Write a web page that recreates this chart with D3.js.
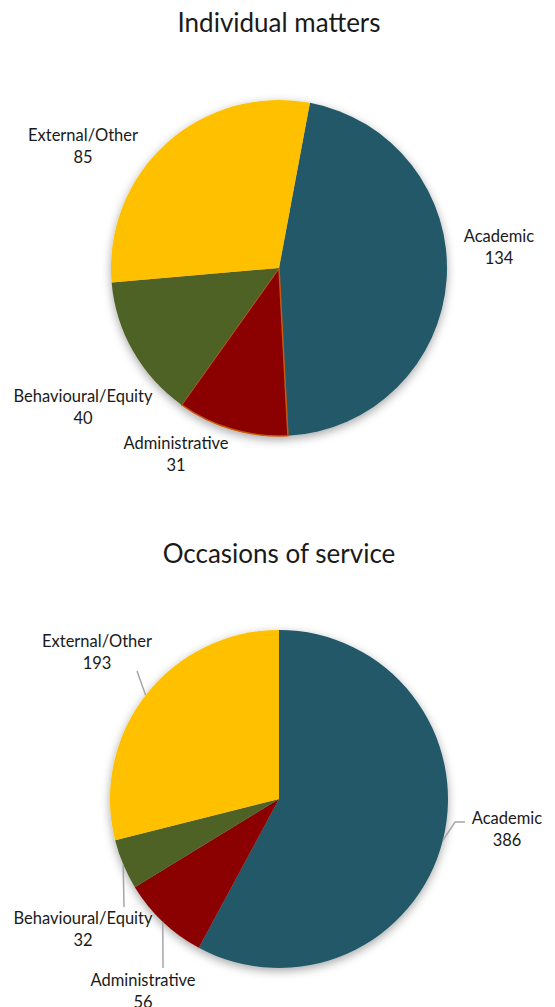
<!DOCTYPE html>
<html><head><meta charset="utf-8">
<script src="https://cdn.jsdelivr.net/npm/d3@7"></script>
<style>
body{margin:0;background:#fff;}
text{font-family:Lato,"Open Sans",sans-serif;fill:#1a1a1a;}
</style></head>
<body><svg id="c" width="555" height="1007"></svg>
<script>
const categories = ["Academic","Administrative","Behavioural/Equity","External/Other"];
const individualMatters = [134, 31, 40, 85];
const occasionsOfService = [386, 56, 32, 193];
const titles = ["Individual matters","Occasions of service"];
const colors = ["#215968","#8B0000","#4F6228","#FFC000"];

const svg = d3.select("#c");
const defs = svg.append("defs");
const f = defs.append("filter").attr("id","sh").attr("x","-20%").attr("y","-20%").attr("width","140%").attr("height","140%");
f.append("feDropShadow").attr("dx",0).attr("dy",3).attr("stdDeviation",5).attr("flood-color","#000").attr("flood-opacity",0.35);

const deg = Math.PI/180;
const charts = [
  {title:titles[0], values:individualMatters, cx:279, cy:268, r:168, start:10.6*deg, titleY:32,
   labels:[{x:499,y:236},{x:176,y:443},{x:83,y:396},{x:83,y:135}], leaders:[null,null,null,null],
   stroke:[null,"#C55A11",null,null]},
  {title:titles[1], values:occasionsOfService, cx:279, cy:799, r:169, start:0, titleY:563,
   labels:[{x:507,y:818},{x:143,y:980},{x:83,y:918},{x:97,y:641}],
   leaders:[[[455,822],[465,822]],[[163,968]],[[124,907]],[[137,671]]],
   stroke:[null,null,null,null]}
];

charts.forEach(ch => {
  svg.append("text").attr("x",279).attr("y",ch.titleY).attr("text-anchor","middle")
    .style("font-size","26px").text(ch.title);
  const pie = d3.pie().sort(null).startAngle(ch.start).endAngle(ch.start+2*Math.PI);
  const arcs = pie(ch.values);
  const arc = d3.arc().innerRadius(0).outerRadius(ch.r);
  const g = svg.append("g").attr("transform",`translate(${ch.cx},${ch.cy})`);
  g.append("g").attr("filter","url(#sh)").selectAll("path").data(arcs).join("path")
    .attr("d",arc).attr("fill",(d,i)=>colors[i])
    .attr("stroke",(d,i)=>ch.stroke[i]||"none").attr("stroke-width",1.5);
  arcs.forEach((d,i)=>{
    const L = ch.leaders[i];
    if(!L) return;
    const a = (d.startAngle+d.endAngle)/2;
    const p0 = [ch.cx + ch.r*Math.sin(a), ch.cy - ch.r*Math.cos(a)];
    svg.append("path").attr("d",d3.line()([p0, ...L])).attr("fill","none")
      .attr("stroke","#a6a6a6").attr("stroke-width",1.5);
  });
  arcs.forEach((d,i)=>{
    const t = svg.append("text").attr("text-anchor","middle").style("font-size","16.5px");
    t.append("tspan").attr("x",ch.labels[i].x).attr("y",ch.labels[i].y+6).text(categories[i]);
    t.append("tspan").attr("x",ch.labels[i].x).attr("y",ch.labels[i].y+28).text(d.data);
  });
});
</script></body></html>
